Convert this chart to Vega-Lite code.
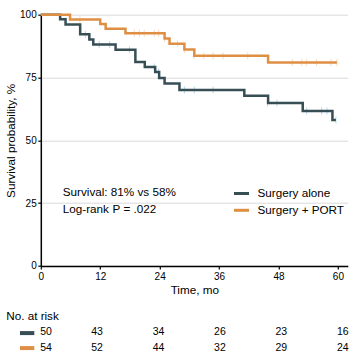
{
  "$schema": "https://vega.github.io/schema/vega-lite/v6.json",
  "background": "white",
  "padding": {"left": 4.8, "top": 9.7, "right": 0, "bottom": 0},
  "config": {
    "font": "Liberation Sans",
    "view": {"stroke": null},
    "axis": {"labelColor": "#000", "titleColor": "#000", "domainColor": "#000", "tickColor": "#000", "titleFontWeight": "normal", "labelFont": "Liberation Sans", "titleFont": "Liberation Sans"},
    "legend": {"labelFont": "Liberation Sans"},
    "title": {"font": "Liberation Sans"}
  },
  "datasets": {
    "km": [
      {"group": "Surgery alone", "t": 0, "s": 100},
      {"group": "Surgery alone", "t": 3.9, "s": 98.2},
      {"group": "Surgery alone", "t": 5.0, "s": 96.1},
      {"group": "Surgery alone", "t": 7.95, "s": 92.2},
      {"group": "Surgery alone", "t": 9.8, "s": 90.1},
      {"group": "Surgery alone", "t": 10.6, "s": 88.1},
      {"group": "Surgery alone", "t": 15.1, "s": 86.1},
      {"group": "Surgery alone", "t": 19.1, "s": 81.2},
      {"group": "Surgery alone", "t": 21.0, "s": 79.2},
      {"group": "Surgery alone", "t": 23.1, "s": 77.2},
      {"group": "Surgery alone", "t": 23.9, "s": 74.8},
      {"group": "Surgery alone", "t": 25.0, "s": 72.6},
      {"group": "Surgery alone", "t": 28.0, "s": 70.0},
      {"group": "Surgery alone", "t": 41.1, "s": 67.7},
      {"group": "Surgery alone", "t": 45.9, "s": 64.9},
      {"group": "Surgery alone", "t": 52.9, "s": 61.7},
      {"group": "Surgery alone", "t": 58.9, "s": 58.1},
      {"group": "Surgery alone", "t": 59.6, "s": 58.1},
      {"group": "Surgery + PORT", "t": 0, "s": 100},
      {"group": "Surgery + PORT", "t": 5.9, "s": 98.1},
      {"group": "Surgery + PORT", "t": 12.0, "s": 96.3},
      {"group": "Surgery + PORT", "t": 13.1, "s": 94.4},
      {"group": "Surgery + PORT", "t": 17.1, "s": 92.6},
      {"group": "Surgery + PORT", "t": 25.0, "s": 90.5},
      {"group": "Surgery + PORT", "t": 26.0, "s": 88.4},
      {"group": "Surgery + PORT", "t": 29.0, "s": 86.2},
      {"group": "Surgery + PORT", "t": 31.0, "s": 83.7},
      {"group": "Surgery + PORT", "t": 45.9, "s": 81.0},
      {"group": "Surgery + PORT", "t": 59.8, "s": 81.0}
    ],
    "censor": [
      {"group": "Surgery alone", "t": 9.0, "s": 92.2},
      {"group": "Surgery alone", "t": 11.8, "s": 88.1},
      {"group": "Surgery alone", "t": 13.9, "s": 88.1},
      {"group": "Surgery alone", "t": 17.9, "s": 86.1},
      {"group": "Surgery alone", "t": 22.9, "s": 79.2},
      {"group": "Surgery alone", "t": 23.8, "s": 77.2},
      {"group": "Surgery alone", "t": 29.0, "s": 70.0},
      {"group": "Surgery alone", "t": 31.0, "s": 70.0},
      {"group": "Surgery alone", "t": 34.8, "s": 70.0},
      {"group": "Surgery alone", "t": 45.8, "s": 64.9},
      {"group": "Surgery alone", "t": 47.7, "s": 64.9},
      {"group": "Surgery alone", "t": 53.7, "s": 61.7},
      {"group": "Surgery alone", "t": 56.7, "s": 61.7},
      {"group": "Surgery alone", "t": 57.8, "s": 61.7},
      {"group": "Surgery alone", "t": 59.6, "s": 58.1},
      {"group": "Surgery + PORT", "t": 7.9, "s": 98.1},
      {"group": "Surgery + PORT", "t": 18.9, "s": 92.6},
      {"group": "Surgery + PORT", "t": 19.9, "s": 92.6},
      {"group": "Surgery + PORT", "t": 20.9, "s": 92.6},
      {"group": "Surgery + PORT", "t": 22.9, "s": 92.6},
      {"group": "Surgery + PORT", "t": 23.8, "s": 92.6},
      {"group": "Surgery + PORT", "t": 25.0, "s": 90.5},
      {"group": "Surgery + PORT", "t": 27.6, "s": 88.4},
      {"group": "Surgery + PORT", "t": 29.0, "s": 86.2},
      {"group": "Surgery + PORT", "t": 31.0, "s": 83.7},
      {"group": "Surgery + PORT", "t": 32.9, "s": 83.7},
      {"group": "Surgery + PORT", "t": 34.8, "s": 83.7},
      {"group": "Surgery + PORT", "t": 36.8, "s": 83.7},
      {"group": "Surgery + PORT", "t": 41.8, "s": 83.7},
      {"group": "Surgery + PORT", "t": 50.8, "s": 81.0},
      {"group": "Surgery + PORT", "t": 52.7, "s": 81.0},
      {"group": "Surgery + PORT", "t": 53.7, "s": 81.0},
      {"group": "Surgery + PORT", "t": 55.7, "s": 81.0},
      {"group": "Surgery + PORT", "t": 58.6, "s": 81.0},
      {"group": "Surgery + PORT", "t": 59.8, "s": 81.0}
    ],
    "notes": [
      {"label": "Survival: 81% vs 58%", "t": 4.44, "s": 29.6},
      {"label": "Log-rank", "t": 4.44, "s": 22.5},
      {"label": "P", "t": 14.48, "s": 22.5},
      {"label": "= .022", "t": 16.7, "s": 22.5}
    ],
    "risk": [
      {"group": "Surgery alone", "t": 0, "n": 50},
      {"group": "Surgery alone", "t": 12, "n": 43},
      {"group": "Surgery alone", "t": 24, "n": 34},
      {"group": "Surgery alone", "t": 36, "n": 26},
      {"group": "Surgery alone", "t": 48, "n": 23},
      {"group": "Surgery alone", "t": 60, "n": 16},
      {"group": "Surgery + PORT", "t": 0, "n": 54},
      {"group": "Surgery + PORT", "t": 12, "n": 52},
      {"group": "Surgery + PORT", "t": 24, "n": 44},
      {"group": "Surgery + PORT", "t": 36, "n": 32},
      {"group": "Surgery + PORT", "t": 48, "n": 29},
      {"group": "Surgery + PORT", "t": 60, "n": 24}
    ]
  },
  "bounds": "flush",
  "spacing": 57.9,
  "vconcat": [
    {
      "width": 307,
      "height": 251.3,
      "layer": [
        {
          "data": {"name": "censor"},
          "mark": {"type": "tick", "orient": "vertical", "thickness": 1, "size": 7, "opacity": 0.7},
          "encoding": {
            "x": {"field": "t", "type": "quantitative", "scale": {"domain": [0, 62], "nice": false}},
            "y": {"field": "s", "type": "quantitative", "scale": {"domain": [0, 100]}},
            "color": {"condition": {"test": "datum.group === 'Surgery alone'", "value": "#8fcbe6"}, "value": "#f5c9a0"}
          }
        },
        {
          "data": {"name": "km"},
          "mark": {"type": "line", "interpolate": "step-after", "strokeWidth": 2.5},
          "encoding": {
            "x": {"field": "t", "type": "quantitative", "scale": {"domain": [0, 62], "nice": false},
              "axis": {"title": "Time, mo", "values": [0, 12, 24, 36, 48, 60], "grid": false, "domainWidth": 1.5, "tickSize": 3, "tickWidth": 1.2, "labelFontSize": 10, "labelPadding": 3, "titleFontSize": 11.7, "titlePadding": 2.6, "labelFlush": false}},
            "y": {"field": "s", "type": "quantitative", "scale": {"domain": [0, 100]},
              "axis": {"title": "Survival probability, %", "values": [0, 25, 50, 75, 100], "grid": true, "gridColor": "#d9d9d9", "gridWidth": 1, "domainWidth": 1.5, "tickSize": 3, "tickWidth": 1.2, "labelFontSize": 10, "labelPadding": 1.6, "titleFontSize": 11.7, "titlePadding": 5.2, "minExtent": 19.6, "maxExtent": 19.6, "labelFlush": false}},
            "color": {"field": "group", "type": "nominal",
              "scale": {"domain": ["Surgery alone", "Surgery + PORT"], "range": ["#374E55", "#DF8F44"]},
              "legend": {"orient": "none", "legendX": 191.7, "legendY": 169.8, "title": null, "symbolType": "stroke", "symbolSize": 225, "symbolStrokeWidth": 3, "labelFontSize": 11.7, "labelColor": "#000", "labelOffset": 7, "rowPadding": 0.8, "padding": 0}}
          }
        },
        {
          "data": {"name": "notes"},
          "mark": {"type": "text", "align": "left", "baseline": "middle", "fontSize": 11.7, "color": "#000"},
          "encoding": {
            "x": {"field": "t", "type": "quantitative"},
            "y": {"field": "s", "type": "quantitative"},
            "text": {"field": "label"},
            "fontStyle": {"condition": {"test": "datum.label === 'P'", "value": "italic"}, "value": "normal"}
          }
        }
      ]
    },
    {
      "width": 307,
      "height": 31.2,
      "title": {"text": "No. at risk", "anchor": "start", "frame": "group", "dx": -34.6, "dy": 14, "fontSize": 11.7, "fontWeight": "normal", "color": "#000", "baseline": "middle", "offset": 10.6},
      "data": {"name": "risk"},
      "encoding": {
        "y": {"field": "group", "type": "nominal",
          "scale": {"domain": ["Surgery alone", "Surgery + PORT"], "paddingInner": 0, "paddingOuter": 0},
          "axis": {"title": null, "labels": false, "domain": false, "ticks": true, "tickSize": 14.3, "tickWidth": 4, "offset": 7,
            "tickColor": {"condition": {"test": "datum.value === 'Surgery alone'", "value": "#374E55"}, "value": "#DF8F44"}}}
      },
      "layer": [
        {
          "transform": [{"filter": "datum.t === 0"}],
          "mark": {"type": "text", "dx": 10.4, "fontSize": 10.5, "color": "#000", "baseline": "middle"},
          "encoding": {
            "x": {"field": "t", "type": "quantitative", "scale": {"domain": [0, 60], "range": [-5.2, 302]}, "axis": null},
            "text": {"field": "n"}
          }
        },
        {
          "transform": [{"filter": "datum.t > 0"}],
          "mark": {"type": "text", "fontSize": 10.5, "color": "#000", "baseline": "middle"},
          "encoding": {
            "x": {"field": "t", "type": "quantitative", "scale": {"domain": [0, 60], "range": [-5.2, 302]}, "axis": null},
            "text": {"field": "n"}
          }
        }
      ]
    }
  ]
}
